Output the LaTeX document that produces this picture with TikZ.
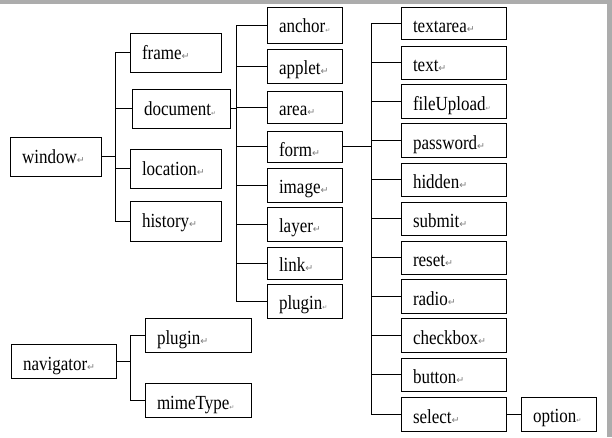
\documentclass[tikz,border=0pt]{standalone}
\usepackage{fontspec}
\setmainfont{Liberation Serif}[FakeStretch=0.85]
\newfontfamily\markfont{DejaVu Sans}
\definecolor{bordergray}{RGB}{172,172,172}
\definecolor{markgray}{RGB}{125,125,125}
\newcommand{\retmark}{{\markfont\fontsize{9.5}{9.5}\selectfont\textcolor{markgray}{↵}}}
\newcommand{\retdot}{{\markfont\fontsize{6}{6}\selectfont\textcolor{markgray}{↵}}}
\tikzset{
  box/.style n args={3}{draw, line width=0.9pt, inner xsep=12pt, inner ysep=0pt,
    anchor=center, align=left, text width=#1, minimum height=#2,
    text height=#3, text depth=0pt, font=\fontsize{20}{20}\selectfont},
  conn/.style={line width=0.9pt},
}
\begin{document}
\begin{tikzpicture}[x=1pt,y=-1pt]
\useasboundingbox (0,0) rectangle (612,437);
\fill[white] (0,0) rectangle (612,437);
\fill[bordergray] (0,0) rectangle (612,4);
\fill[bordergray] (607,0) rectangle (612,437);

% window column
\node[box={67pt}{39pt}{13pt}] (window)   at (55.5,156.5) {window\retmark};
\node[box={67pt}{39pt}{13pt}] (frame)    at (175.5,52.5) {frame\retmark};
\node[box={74pt}{39pt}{13pt}] (document) at (181,108.5)  {document\retdot};
\node[box={67pt}{39pt}{13pt}] (location) at (175.5,168.5) {location\retmark};
\node[box={67pt}{40pt}{13pt}] (history)  at (175.5,221)  {history\retmark};

% document children
\node[box={51pt}{36pt}{15pt}] (anchor)  at (304.5,25)    {anchor\retdot};
\node[box={51pt}{34pt}{16pt}] (applet)  at (304.5,66)    {applet\retmark};
\node[box={51pt}{32pt}{16pt}] (area)    at (304.5,107)   {area\retmark};
\node[box={51pt}{31pt}{20pt}] (form)    at (304.5,146.5) {form\retmark};
\node[box={51pt}{34pt}{16pt}] (image)   at (304.5,185)   {image\retmark};
\node[box={51pt}{34pt}{16pt}] (layer)   at (304.5,224)   {layer\retmark};
\node[box={51pt}{32pt}{16pt}] (link)    at (304.5,263)   {link\retmark};
\node[box={51pt}{34pt}{16pt}] (plugin)  at (304.5,301)   {plugin\retdot};

% form children
\node[box={81pt}{32pt}{18pt}] (textarea)   at (453.5,23)    {textarea\retmark};
\node[box={81pt}{33pt}{18pt}] (text)       at (453.5,62.5)  {text\retmark};
\node[box={81pt}{34pt}{18pt}] (fileUpload) at (453.5,101)   {fileUpload\retdot};
\node[box={81pt}{34pt}{18pt}] (password)   at (453.5,140)   {password\retmark};
\node[box={81pt}{33pt}{18pt}] (hidden)     at (453.5,179.5) {hidden\retmark};
\node[box={81pt}{33pt}{18pt}] (submit)     at (453.5,218.5) {submit\retmark};
\node[box={81pt}{33pt}{18pt}] (reset)      at (453.5,257.5) {reset\retmark};
\node[box={81pt}{34pt}{18pt}] (radio)      at (453.5,296)   {radio\retmark};
\node[box={81pt}{34pt}{18pt}] (checkbox)   at (453.5,335)   {checkbox\retmark};
\node[box={81pt}{33pt}{18pt}] (button)     at (453.5,374.5) {button\retmark};
\node[box={81pt}{34pt}{18pt}] (select)     at (453.5,414)   {select\retmark};
\node[box={51pt}{34pt}{16pt}] (option)     at (558.5,414)   {option\retdot};

% navigator
\node[box={81pt}{34pt}{18pt}] (navigator) at (63.5,361) {navigator\retmark};
\node[box={82pt}{34pt}{18pt}] (nplugin)   at (198,335)  {plugin\retmark};
\node[box={82pt}{34pt}{18pt}] (mimeType)  at (198,400)  {mimeType\retdot};

% trunks
\coordinate (wt) at (115,0);
\coordinate (dt) at (236,0);
\coordinate (ft) at (371,0);
\coordinate (nt) at (130,0);

\draw[conn] (window.east) -- (wt |- window.east);
\draw[conn] (wt |- frame.west) -- (wt |- history.west);
\foreach \n in {frame,document,location,history}
  \draw[conn] (wt |- \n.west) -- (\n.west);

\draw[conn] (document.east) -- (dt |- document.east);
\draw[conn] (dt |- anchor.west) -- (dt |- plugin.west);
\foreach \n in {anchor,applet,area,form,image,layer,link,plugin}
  \draw[conn] (dt |- \n.west) -- (\n.west);

\draw[conn] (form.east) -- (ft |- form.east);
\draw[conn] (ft |- textarea.west) -- (ft |- select.west);
\foreach \n in {textarea,text,fileUpload,password,hidden,submit,reset,radio,checkbox,button,select}
  \draw[conn] (ft |- \n.west) -- (\n.west);
\draw[conn] (select.east) -- (option.west);

\draw[conn] (navigator.east) -- (nt |- navigator.east);
\draw[conn] (nt |- nplugin.west) -- (nt |- mimeType.west);
\foreach \n in {nplugin,mimeType}
  \draw[conn] (nt |- \n.west) -- (\n.west);
\end{tikzpicture}
\end{document}
